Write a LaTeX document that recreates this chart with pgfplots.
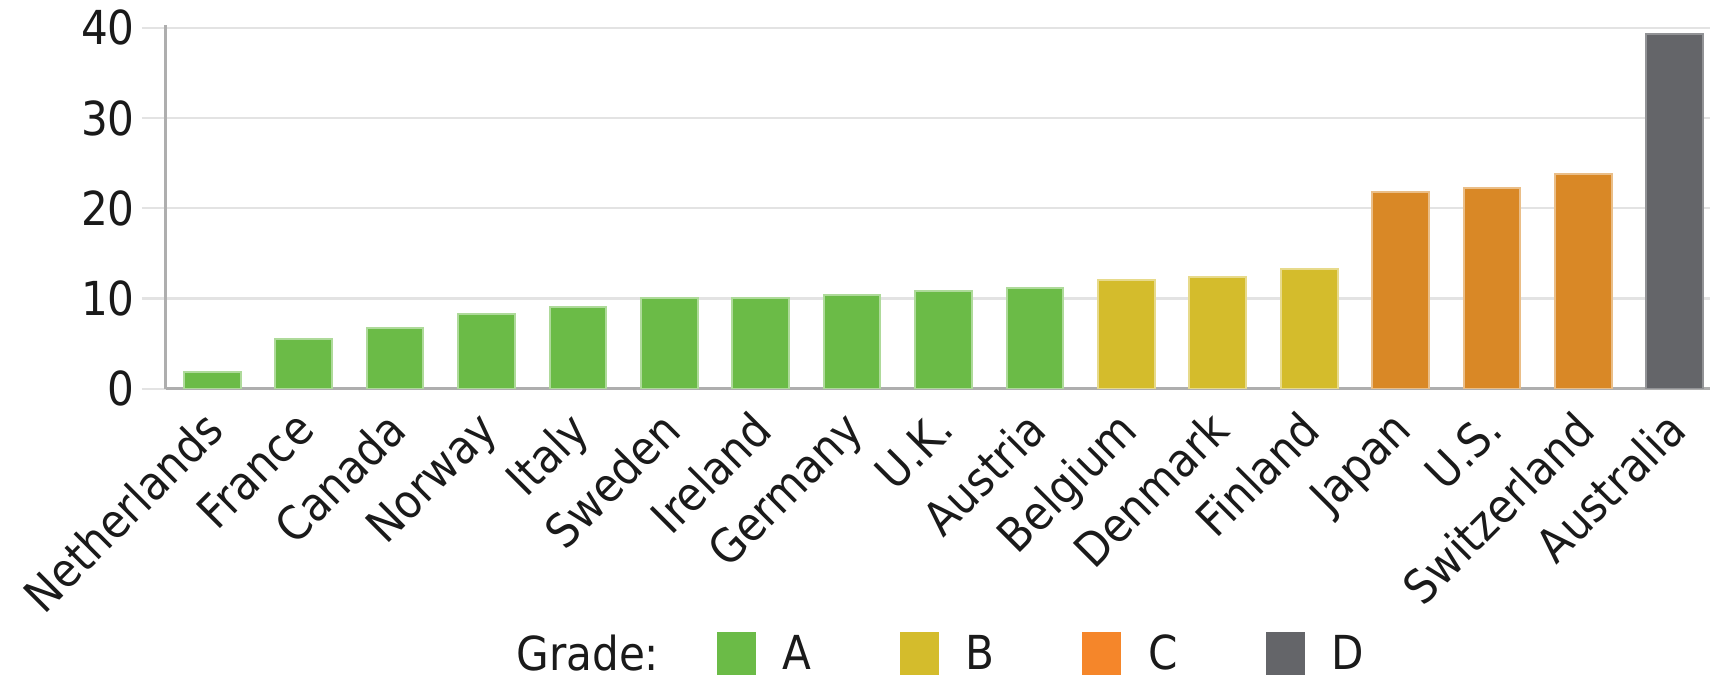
\documentclass[border=0pt]{standalone}
\usepackage{fontspec}
\setmainfont{DejaVu Sans Condensed}
\usepackage{pgfplots}
\pgfplotsset{compat=1.18}
\definecolor{gA}{HTML}{6BBB47}
\definecolor{gB}{HTML}{D4BC2C}
\definecolor{gC}{HTML}{D98826}
\definecolor{gCleg}{HTML}{F5862A}
\definecolor{gD}{HTML}{646569}
\definecolor{gridc}{HTML}{E3E3E3}
\definecolor{axisc}{HTML}{AEAEAE}
\definecolor{txt}{HTML}{1A1A1A}
\begin{document}
\begin{tikzpicture}
\path[use as bounding box] (0,0) rectangle (858bp,338bp);
\begin{axis}[
  at={(82.85bp,143.65bp)}, anchor=south west,
  scale only axis, width=771.9bp, height=181.85bp,
  xmin=-0.51, xmax=16.38, ymin=0, ymax=40.3,
  ytick={0,10,20,30,40},
  xtick={0,...,16},
  xticklabels={Netherlands,France,Canada,Norway,Italy,Sweden,Ireland,Germany,U.K.,Austria,Belgium,Denmark,Finland,Japan,U.S.,Switzerland,Australia},
  axis x line*=bottom, axis y line*=left,
  axis line style={draw=axisc, line width=1.5bp, -},
  ymajorgrids, grid style={draw=gridc, line width=1.2bp},
  tick align=outside, major tick length=12bp,
  ytick style={draw=gridc, line width=1.2bp},
  xtick style={draw=none},
  /pgf/number format/assume math mode=true,
  ticklabel style={font=\fontsize{23.5}{28}\selectfont, text=txt},
  yticklabel style={inner sep=0pt, xshift=-3.3bp},
  xticklabel style={xshift=-5.75bp, yshift=2.5bp, rotate=45, anchor=north east, inner sep=0pt},
  legend columns=5,
  legend style={at={(0.2095,-0.729)}, anchor=west, draw=none, fill=none, inner sep=0pt,
    font=\fontsize{23.5}{28}\selectfont, text=txt,
    nodes={inner sep=0pt},
    /tikz/every odd column/.append style={column sep=13.5bp},
    /tikz/every even column/.append style={column sep=44bp}},
  bar width=0.62,
]
\addlegendimage{empty legend}
\addlegendentry{Grade:\hspace*{-15bp}}
\addlegendimage{legend image code/.code={\fill[gA] (0bp,-10.5bp) rectangle (19bp,10.5bp);}}
\addlegendentry{A}
\addlegendimage{legend image code/.code={\fill[gB] (0bp,-10.5bp) rectangle (19bp,10.5bp);}}
\addlegendentry{B}
\addlegendimage{legend image code/.code={\fill[gCleg] (0bp,-10.5bp) rectangle (19bp,10.5bp);}}
\addlegendentry{C}
\addlegendimage{legend image code/.code={\fill[gD] (0bp,-10.5bp) rectangle (19bp,10.5bp);}}
\addlegendentry{D}
\addplot[ybar, bar shift=0pt, fill=gA, draw=gA!55!white, line width=1bp, forget plot] coordinates {
 (0,1.8) (1,5.5) (2,6.7) (3,8.3) (4,9.1) (5,10.0) (6,10.0) (7,10.4) (8,10.8) (9,11.2)};
\addplot[ybar, bar shift=0pt, fill=gB, draw=gB!55!white, line width=1bp, forget plot] coordinates {
 (10,12.0) (11,12.4) (12,13.3)};
\addplot[ybar, bar shift=0pt, fill=gC, draw=gC!55!white, line width=1bp, forget plot] coordinates {
 (13,21.8) (14,22.2) (15,23.8)};
\addplot[ybar, bar shift=0pt, fill=gD, draw=gD!70!white, line width=1bp, forget plot] coordinates {
 (16,39.3)};
\end{axis}
\end{tikzpicture}
\end{document}
